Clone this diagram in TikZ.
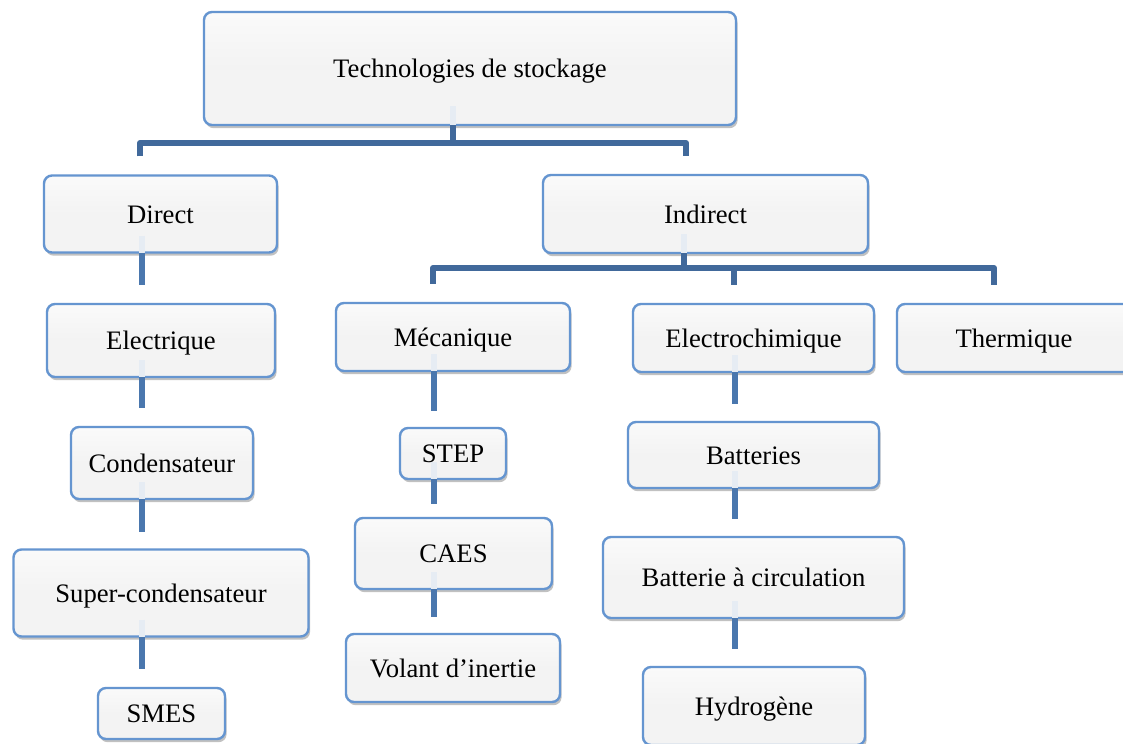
\documentclass[tikz,border=0pt]{standalone}
\usepackage{fontspec}
\setmainfont{Liberation Serif}
\usetikzlibrary{shadows,calc}
\definecolor{boxborder}{HTML}{6595D0}
\definecolor{boxfill}{HTML}{F3F3F3}
\definecolor{stubcol}{HTML}{4A77AE}
\definecolor{buscol}{HTML}{41699B}
\definecolor{faintcol}{HTML}{E6ECF3}
\tikzset{
  box/.style={draw=boxborder, line width=1.8pt, rounded corners=6pt,
    top color=white!60!boxfill, bottom color=boxfill, middle color=boxfill,
    drop shadow={opacity=0.4, shadow xshift=1.2pt, shadow yshift=-2.4pt, fill=black!60},
    inner sep=0pt, font=\fontsize{20}{24}\selectfont, text=black,
    text height=15pt, text depth=1.5pt},
  stub/.style={draw=stubcol, line width=4.5pt},
  bus/.style={draw=buscol, line width=4.5pt, line join=round},
  faint/.style={draw=faintcol, line width=4.5pt},
}
\newcommand\mybox[6]{\node[box, minimum width=#4*0.75pt, minimum height=#5*0.75pt] (#1) at (#2,#3) {#6};}
\begin{document}
\begin{tikzpicture}[x=0.75pt,y=-0.75pt]
\clip (0,0) rectangle (1123,743);
\useasboundingbox (0,0) rectangle (1123,743);
\fill[white] (0,0) rectangle (1123,743);
% boxes
\mybox{top}{470}{68.5}{532}{113}{Technologies de stockage}
\mybox{dir}{160.5}{214}{233}{77}{Direct}
\mybox{ind}{705.5}{214}{325}{78}{Indirect}
\mybox{ele}{161}{340.5}{228}{73}{Electrique}
\mybox{con}{162}{463}{182}{72}{Condensateur}
\mybox{sup}{161}{593}{295}{87}{Super-condensateur}
\mybox{smes}{161.5}{713.5}{127}{51}{SMES}
\mybox{mec}{453}{337}{234}{68}{Mécanique}
\mybox{step}{453}{453.5}{106}{51}{STEP}
\mybox{caes}{453.5}{553.5}{197}{71}{CAES}
\mybox{vol}{453}{668}{214}{68}{Volant d’inertie}
\mybox{ech}{753.5}{338}{241}{68}{Electrochimique}
\mybox{the}{1014}{338}{234}{68}{Thermique}
\mybox{bat}{753.5}{455}{251}{66}{Batteries}
\mybox{bac}{753.5}{577.5}{301}{81}{Batterie à circulation}
\mybox{hyd}{754}{706}{222}{78}{Hydrogène}
% helper coordinates
\path ($(top.south)+(-17,-20)$) coordinate (topf)
      ($(top.south)+(-17,-1)$) coordinate (tops)
      (453,143) coordinate (topbus)
      ($(dir.north)+(-20.5,-18)$) coordinate (dirin)
      ($(ind.north)+(-19.5,-18)$) coordinate (indin)
      ($(ind.south)+(-21.5,-20)$) coordinate (indf)
      ($(ind.south)+(-21.5,-1)$) coordinate (inds)
      (684,268) coordinate (indbus)
      ($(mec.north)+(-20,-18)$) coordinate (mecin)
      ($(ech.north)+(-19.5,-18)$) coordinate (echin)
      ($(the.north)+(-20,-18)$) coordinate (thein);
% top tree
\draw[faint] (topf) -- (tops);
\draw[bus] (tops) -- (topbus);
\draw[bus] (dirin) -- (dirin |- topbus) -- (indin |- topbus) -- (indin);
% indirect tree
\draw[faint] (indf) -- (inds);
\draw[bus] (inds) -- (indbus);
\draw[bus] (mecin) -- (mecin |- indbus) -- (thein |- indbus) -- (thein);
\draw[bus] (echin) -- (echin |- indbus);
% vertical chains
\foreach \a/\b/\dx/\g in {dir/ele/-18.5/-18, ele/con/-19/-18, con/sup/-20/-16, sup/smes/-19/-18,
                       mec/step/-19/-16, step/caes/-19/-13, caes/vol/-19.5/-16,
                       ech/bat/-19/-17, bat/bac/-19/-17, bac/hyd/-19/-17}{
  \path ($(\a.south)+(\dx,-18)$) coordinate (cf)
        ($(\a.south)+(\dx,-1)$) coordinate (cs)
        ($(\b.north)+(0,\g)$) coordinate (ce);
  \draw[faint] (cf) -- (cs);
  \draw[stub] (cs) -- (cs |- ce);
}
\end{tikzpicture}
\end{document}
